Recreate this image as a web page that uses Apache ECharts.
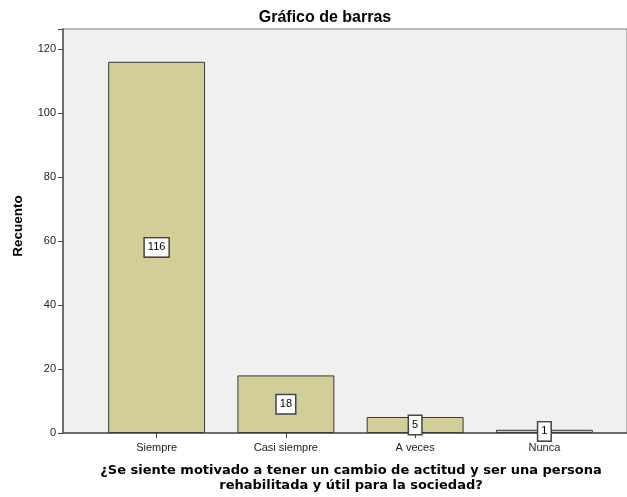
<!DOCTYPE html>
<html>
<head>
<meta charset="utf-8">
<script src="https://cdn.jsdelivr.net/npm/echarts@6/dist/echarts.min.js"></script>
<style>
  html, body { margin: 0; padding: 0; background: #fff; }
  #chart { width: 627px; height: 497px; }
</style>
</head>
<body>
<div id="chart"></div>
<script>
// Response categories and their counts
const categories = ['Siempre', 'Casi siempre', 'A veces', 'Nunca'];
const counts = [116, 18, 5, 1];
const yTicks = [0, 20, 40, 60, 80, 100, 120];

const FONT = '"Liberation Sans", Arial, sans-serif';
const Y_MAX = 126.25;

const chart = echarts.init(document.getElementById('chart'));
chart.setOption({
  animation: false,
  backgroundColor: '#ffffff',
  title: {
    text: 'Gráfico de barras',
    left: 320, top: 5, textAlign: 'center',
    textStyle: { fontFamily: FONT, fontSize: 16, fontWeight: 'bold', color: '#000' }
  },
  grid: [
    // frame with the shaded plot area and the count axis
    { left: 63, top: 29, width: 564, bottom: 64, show: true, outerBoundsMode: 'none',
      backgroundColor: '#f0f0f0', borderColor: '#777', borderWidth: 1 },
    // area holding the bars
    { left: 92, top: 29, width: 517, bottom: 64, outerBoundsMode: 'none' }
  ],
  xAxis: [
    { gridIndex: 0, type: 'value', min: 0, max: 1,
      axisLine: { show: true, onZero: false, lineStyle: { color: '#555', width: 1.5 } },
      axisTick: { show: false }, axisLabel: { show: false }, splitLine: { show: false } },
    { gridIndex: 1, type: 'category', data: categories,
      axisLine: { show: false },
      axisTick: { show: true, alignWithLabel: true, length: 5, lineStyle: { color: '#444' } },
      axisLabel: { fontFamily: FONT, fontSize: 11, color: '#222', margin: 9 } }
  ],
  yAxis: [
    { gridIndex: 0, type: 'value', min: 0, max: Y_MAX, interval: 20,
      axisLine: { show: true, lineStyle: { color: '#555', width: 1.5 } },
      axisTick: { show: true, length: 5, lineStyle: { color: '#444' } },
      axisLabel: { fontFamily: FONT, fontSize: 11, color: '#222', margin: 7,
        formatter: v => (yTicks.indexOf(v) >= 0 ? String(v) : '') },
      splitLine: { show: false } },
    { gridIndex: 1, type: 'value', min: 0, max: Y_MAX,
      show: false, splitLine: { show: false } }
  ],
  graphic: [
    { type: 'text', x: 18, y: 226, rotation: Math.PI / 2,
      style: { text: 'Recuento', align: 'center', verticalAlign: 'middle',
        font: 'bold 13.5px "Liberation Sans", Arial, sans-serif', fill: '#000' } },
    { type: 'text', x: 351, y: 463,
      style: { text: '¿Se siente motivado a tener un cambio de actitud y ser una persona\nrehabilitada y útil para la sociedad?',
        align: 'center', verticalAlign: 'top', lineHeight: 15,
        font: 'bold 13px "DejaVu Sans", sans-serif', fill: '#000' } }
  ],
  series: [{
    type: 'bar',
    xAxisIndex: 1, yAxisIndex: 1,
    data: counts,
    barCategoryGap: '25%',
    itemStyle: { color: '#d3ce98', borderColor: '#3a3a3a', borderWidth: 1 },
    label: {
      show: true, position: 'inside',
      fontFamily: FONT, fontSize: 11, color: '#000',
      backgroundColor: '#fff', borderColor: '#444', borderWidth: 1.5,
      padding: [4, 3, 3, 3]
    }
  }]
});
</script>
</body>
</html>
